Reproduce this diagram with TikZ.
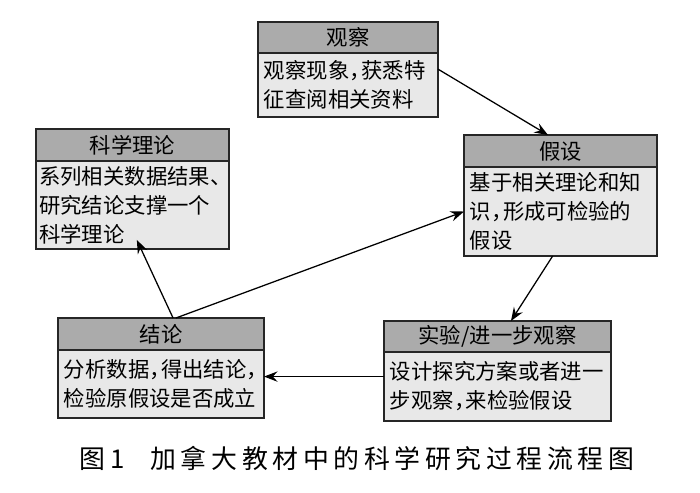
\documentclass[tikz,border=0pt]{standalone}
\usepackage{fontspec}
\newfontfamily\cjk{Noto Sans CJK SC}
\newfontfamily\capfont[LetterSpace=18]{Noto Sans CJK SC}
\usetikzlibrary{positioning,arrows.meta}
\definecolor{headgray}{gray}{0.67}
\definecolor{bodygray}{gray}{0.91}
\newcommand{\dou}{\makebox[0.55em][l]{，}}

\begin{document}
\begin{tikzpicture}[x=0.025cm,y=-0.025cm,
    head/.style={draw=black!85,fill=headgray,line width=0.9pt,inner sep=0pt,outer sep=0pt,font=\cjk\fontsize{15.2}{20.6}\selectfont},
    body/.style={draw=black!85,fill=bodygray,line width=0.9pt,inner xsep=0.15cm,inner ysep=0pt,outer sep=0pt,align=left,font=\cjk\fontsize{15.2}{20.6}\selectfont},
    arr/.style={-{Stealth[length=3.4mm,width=2.6mm,inset=1.2mm]},line width=0.9pt}]
  \useasboundingbox (0,0) rectangle (700,493);
  \node[head,minimum width=4.5cm,minimum height=0.775cm] (obsh) at (348,37.5) {观察};
  \node[body,below=0pt of obsh,text width=4.2cm,minimum height=1.6cm] (obsb) {观察现象\dou 获悉特\\征查阅相关资料};
  \node[head,minimum width=4.825cm,minimum height=0.8cm] (kxh) at (132.5,145) {科学理论};
  \node[body,below=0pt of kxh,inner xsep=0.08cm,text width=4.665cm,minimum height=2.2cm] (kxb) {系列相关数据结果、\\研究结论支撑一个\\科学理论};
  \node[head,minimum width=4.825cm,minimum height=0.8cm] (jiah) at (560.5,151) {假设};
  \node[body,below=0pt of jiah,text width=4.525cm,minimum height=2.225cm] (jiab) {基于相关理论和知\\识\dou 形成可检验的\\假设};
  \node[head,minimum width=5.15cm,minimum height=0.8cm] (jlh) at (161,334) {结论};
  \node[body,below=0pt of jlh,text width=4.85cm,minimum height=1.7cm] (jlb) {分析数据\dou 得出结论\dou\\检验原假设是否成立};
  \node[head,minimum width=5.675cm,minimum height=0.775cm] (shh) at (497.5,336.5) {实验/进一步观察};
  \node[body,below=0pt of shh,text width=5.375cm,minimum height=1.725cm] (shb) {设计探究方案或者进一\\步观察\dou 来检验假设};
  \node[font=\capfont\fontsize{18.4}{22}\selectfont] (cap) at (357,458) {图1\quad 加拿大教材中的科学研究过程流程图};
  \draw[arr] (obsb.10) -- (jiah.128);
  \draw[arr] (jiab.260) -- (shh.49);
  \draw[arr] (shb.175) -- (shb.175 -| jlb.east);
  \draw[arr,shorten >=-0.25cm] (jlh.53) -- (kxb.281);
  \draw[arr] (jlh.47) -- (jiab.west);
\end{tikzpicture}
\end{document}
